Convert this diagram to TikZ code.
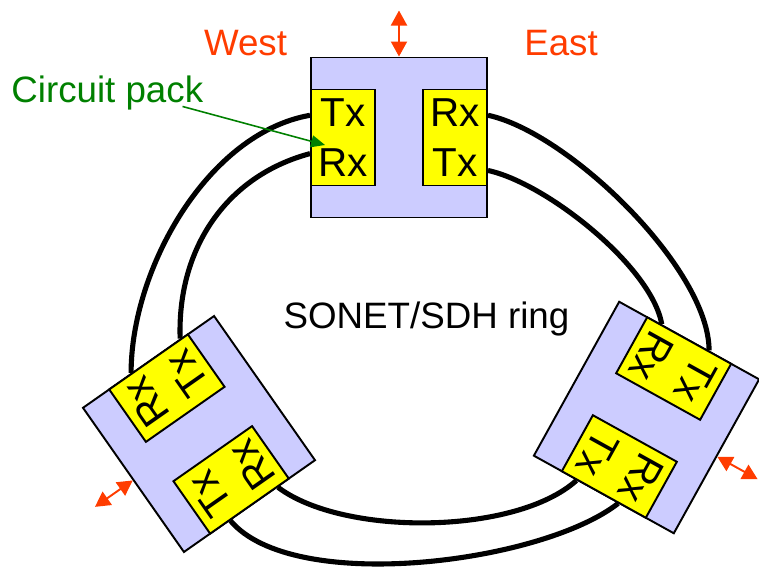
\documentclass[tikz,border=0pt]{standalone}
\usepackage{fontspec}
\setmainfont{Liberation Sans}
\usetikzlibrary{arrows.meta}
\definecolor{NodeBlue}{RGB}{204,204,255}
\definecolor{PackYellow}{RGB}{255,255,0}
\definecolor{DropRed}{RGB}{255,60,0}
\definecolor{LabelGreen}{RGB}{0,128,0}
\tikzset{
  nodebox/.style={draw=black,line width=1.1pt,fill=NodeBlue,
    minimum width=3.52cm,minimum height=3.2cm,inner sep=0pt,transform shape},
  packbox/.style={draw=black,line width=1.1pt,fill=PackYellow,
    minimum width=1.28cm,minimum height=1.92cm,inner sep=0pt,align=center,
    font=\fontsize{23}{28.45}\selectfont,transform shape},
  fiber/.style={line width=2.9pt,draw=black},
  droparrow/.style={{Triangle[length=0.3cm,width=0.32cm]}-{Triangle[length=0.3cm,width=0.32cm]},
    line width=1.1pt,draw=DropRed,fill=DropRed},
  pointarrow/.style={-{Triangle[length=0.28cm,width=0.24cm]},
    line width=0.9pt,draw=LabelGreen},
  labeltext/.style={font=\fontsize{20.9}{25}\selectfont,inner sep=0pt,anchor=base},
}

\begin{document}
\begin{tikzpicture}
  \useasboundingbox (0,0) rectangle (15.18,-11.36);
  % add/drop nodes
  \begin{scope}[shift={(7.98,-2.75)}]
    \node[nodebox] (t) at (0,0) {};
    \node[packbox,anchor=west] (t-l) at (t.west) {Tx\\Rx};
    \node[packbox,anchor=east] (t-r) at (t.east) {Rx\\Tx};
    \coordinate (t-add) at (0,2.54);
  \end{scope}
  \begin{scope}[shift={(3.98,-8.68)},rotate=125]
    \node[nodebox] (bl) at (0,0) {};
    \node[packbox,anchor=west] (bl-l) at (bl.west) {Tx\\Rx};
    \node[packbox,anchor=east] (bl-r) at (bl.east) {Rx\\Tx};
    \coordinate (bl-add) at (0,2.54);
  \end{scope}
  \begin{scope}[shift={(12.93,-8.35)},rotate=-119]
    \node[nodebox] (br) at (0,0) {};
    \node[packbox,anchor=west] (br-l) at (br.west) {Tx\\Rx};
    \node[packbox,anchor=east] (br-r) at (br.east) {Rx\\Tx};
    \coordinate (br-add) at (0,2.54);
  \end{scope}
  \draw[droparrow] (t.north) -- (t-add);
  \draw[droparrow] (bl.north) -- (bl-add);
  \draw[droparrow] (br.north) -- (br-add);
  % fibers of the ring
  \draw[fiber] (t-l.146) to[out=190,in=90,looseness=0.85] (bl-r.32);
  \draw[fiber] (t-l.206) to[out=195,in=92,looseness=1.0] (bl-r.310);
  \draw[fiber] (t-r.34) to[out=-12,in=90,looseness=0.65] (br-l.146);
  \draw[fiber] (t-r.315) to[out=-12,in=100,looseness=0.65] (br-l.224);
  \draw[fiber] (bl-l.226) to[out=-37,in=222,looseness=0.7] (br-r.317);
  \draw[fiber] (bl-l.144) to[out=-50,in=218,looseness=0.64] (br-r.27);
  % labels
  \node[labeltext,text=DropRed] (west) at (4.91,-1.10) {West};
  \node[labeltext,text=DropRed] (east) at (11.22,-1.10) {East};
  \node[labeltext] (ring) at (8.53,-6.56) {SONET/SDH ring};
  \node[labeltext,anchor=base west,text=LabelGreen] (cpack) at (0.22,-2.04) {Circuit pack};
  \draw[pointarrow] ([xshift=-0.42cm,yshift=0.07cm]cpack.south east) -- ([xshift=0.3cm,yshift=-0.15cm]t-l.west);
\end{tikzpicture}
\end{document}
